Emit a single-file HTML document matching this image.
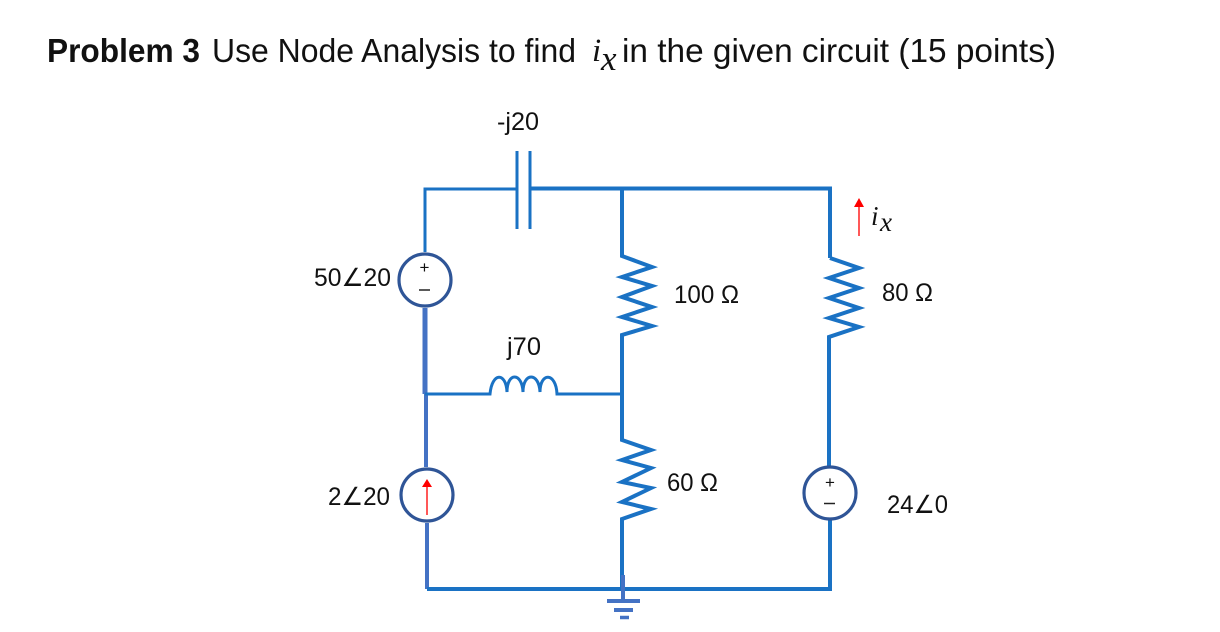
<!DOCTYPE html>
<html>
<head>
<meta charset="utf-8">
<style>
html,body{margin:0;padding:0;background:#fff;width:1220px;height:632px;overflow:hidden}
svg{display:block;filter:blur(0.35px)}
text{font-family:"Liberation Sans",sans-serif;fill:#111}
.w{fill:none;stroke:#1a72c4;stroke-width:4;stroke-linejoin:miter}
.t{fill:none;stroke:#1a72c4;stroke-width:3;stroke-linejoin:miter}
.c{fill:#fff;stroke:#2f5597;stroke-width:3.2}
.b{fill:none;stroke:#4472c4;stroke-width:4}
.m{font-family:"Liberation Serif",serif;font-style:italic}
.l{font-size:25px}
</style>
</head>
<body>
<svg width="1220" height="632" viewBox="0 0 1220 632" xmlns="http://www.w3.org/2000/svg">
<text x="47" y="62" font-size="33" font-weight="700" textLength="153" lengthAdjust="spacingAndGlyphs">Problem 3</text>
<text x="212" y="62" font-size="33" textLength="364" lengthAdjust="spacingAndGlyphs">Use Node Analysis to find</text>
<text x="592" y="61" font-size="33" class="m">i</text>
<text x="601" y="70" font-size="35" class="m">x</text>
<text x="622" y="62" font-size="33" textLength="434" lengthAdjust="spacingAndGlyphs">in the given circuit (15 points)</text>

<!-- top wire and capacitor -->
<path class="t" d="M425 252V189H517"/>
<path class="w" d="M530 188.500H830V258"/>
<path class="t" d="M517 151V229M530 151V229"/>

<!-- left branch -->
<path d="M425 308V394" fill="none" stroke="#4472c4" stroke-width="5"/>
<path class="b" d="M426 394V467M427 523V589"/>

<!-- inductor -->
<path class="t" d="M425 394H490C492 372 506 372 507 392C507 372 522 372 523 392C523 372 539 372 540 392C540 372 556 372 557 394H622"/>

<!-- middle branch and resistors -->
<path class="w" d="M622 189V256L652 267L622 277L652 286L622 297L652 307L622 317L652 326L622 335V440L651 450L622 460L651 468L622 482L651 488L622 502L651 509L622 519V589"/>

<!-- right branch -->
<path class="w" d="M830 258L859 268L829 278L859 288L829 298L859 308L829 318L859 327L829 337V466M830 520V589H427"/>

<!-- ground -->
<path class="b" d="M623 575V601M607 601H640M614 610H633"/>
<path d="M620 617.500H629" stroke="#4472c4" stroke-width="3.500" fill="none"/>

<!-- sources -->
<circle class="c" cx="425" cy="280" r="26"/>
<text x="424.500" y="273" font-size="17" text-anchor="middle">+</text>
<path d="M419 290H430" stroke="#222" stroke-width="1.500"/>
<circle class="c" cx="427" cy="495" r="26"/>
<path d="M427 515V484" stroke="#ff2020" stroke-width="1.500"/>
<path d="M427 479L432 487H422Z" fill="#f00"/>
<circle class="c" cx="830" cy="493" r="26"/>
<text x="830" y="488" font-size="17" text-anchor="middle">+</text>
<path d="M824 503.500H835" stroke="#222" stroke-width="1.500"/>

<!-- ix arrow -->
<path d="M859 236V205" stroke="#ff2020" stroke-width="1.500"/>
<path d="M859 198L864 207H854Z" fill="#f00"/>
<text x="871" y="225" font-size="27" class="m">i</text>
<text x="880" y="231" font-size="27" class="m">x</text>

<!-- labels -->
<text class="l" x="497" y="130" textLength="42" lengthAdjust="spacingAndGlyphs">-j20</text>
<text class="l" x="507" y="355" textLength="34" lengthAdjust="spacingAndGlyphs">j70</text>
<text class="l" x="314" y="286" textLength="77" lengthAdjust="spacingAndGlyphs">50∠20</text>
<text class="l" x="328" y="505" textLength="62" lengthAdjust="spacingAndGlyphs">2∠20</text>
<text class="l" x="674" y="303" textLength="65" lengthAdjust="spacingAndGlyphs">100 Ω</text>
<text class="l" x="667" y="491" textLength="51" lengthAdjust="spacingAndGlyphs">60 Ω</text>
<text class="l" x="882" y="301" textLength="51" lengthAdjust="spacingAndGlyphs">80 Ω</text>
<text class="l" x="887" y="513" textLength="61" lengthAdjust="spacingAndGlyphs">24∠0</text>
</svg>
</body>
</html>
